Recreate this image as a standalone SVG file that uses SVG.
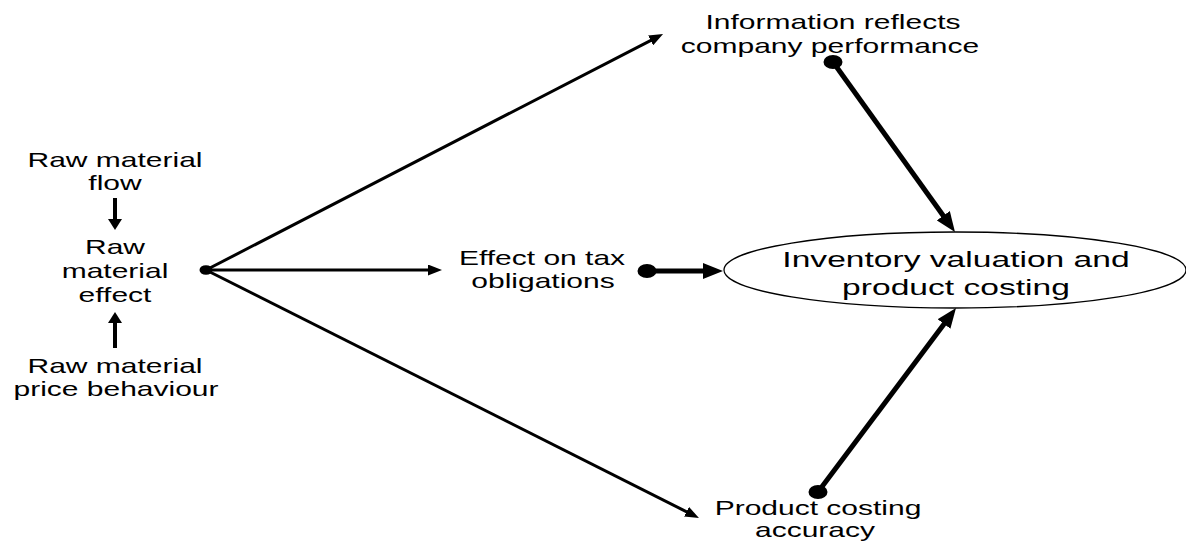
<svg xmlns="http://www.w3.org/2000/svg" width="1186" height="543" viewBox="0 0 1186 543">
<style>
.t{font-family:"Liberation Sans",Arial,sans-serif;font-size:20px;fill:#000;text-anchor:middle}
.tb{font-family:"Liberation Sans",Arial,sans-serif;font-size:22.4px;fill:#000;text-anchor:middle}
.thin{stroke:#000;stroke-width:3;fill:none;marker-end:url(#mThin)}
.thick{stroke:#000;stroke-width:5;fill:none;marker-end:url(#mThick)}
.vert{stroke:#000;stroke-width:4;fill:none;marker-end:url(#mVert)}
.dot{fill:#000}
</style>
<defs>
<marker id="mThin" markerUnits="userSpaceOnUse" markerWidth="14" markerHeight="11" refX="8" refY="5.5" orient="auto"><path d="M0,0 L14,5.5 L0,11 z" fill="#000"/></marker>
<marker id="mThick" markerUnits="userSpaceOnUse" markerWidth="20" markerHeight="16" refX="12" refY="8" orient="auto"><path d="M0,0 L20,8 L0,16 z" fill="#000"/></marker>
<marker id="mVert" markerUnits="userSpaceOnUse" markerWidth="11" markerHeight="14" refX="5" refY="7" orient="auto"><path d="M0,0 L11,7 L0,14 z" fill="#000"/></marker>
</defs>
<rect width="1186" height="543" fill="#fff"/>

<g id="connectors">
<line class="vert" x1="115" y1="198" x2="115" y2="224"/>
<line class="vert" x1="115" y1="348" x2="115" y2="318"/>
<line class="thin" x1="206" y1="270" x2="657.7" y2="36.8"/>
<line class="thin" x1="206" y1="270" x2="436" y2="270"/>
<line class="thin" x1="206" y1="270" x2="693.6" y2="515.3"/>
<ellipse class="dot" cx="206" cy="270" rx="6.5" ry="4.8"/>
<line class="thick" x1="647" y1="271" x2="715" y2="271"/>
<ellipse class="dot" cx="647" cy="271" rx="9.5" ry="7"/>
<line class="thick" x1="833" y1="62" x2="950.3" y2="225.5"/>
<ellipse class="dot" cx="833" cy="62" rx="9.5" ry="7"/>
<line class="thick" x1="818" y1="492" x2="951.2" y2="314.4"/>
<ellipse class="dot" cx="818" cy="492" rx="9.5" ry="7"/>
</g>

<g id="raw-material-flow">
<text class="t" transform="matrix(1.5 0 0 1 115 0)" x="0" y="167">Raw material</text>
<text class="t" transform="matrix(1.5 0 0 1 115 0)" x="0" y="190">flow</text>
</g>

<g id="raw-material-effect">
<text class="t" transform="matrix(1.5 0 0 1 115 0)" x="0" y="254">Raw</text>
<text class="t" transform="matrix(1.5 0 0 1 115 0)" x="0" y="278">material</text>
<text class="t" transform="matrix(1.5 0 0 1 115 0)" x="0" y="302">effect</text>
</g>

<g id="raw-material-price">
<text class="t" transform="matrix(1.5 0 0 1 115 0)" x="0" y="373">Raw material</text>
<text class="t" transform="matrix(1.5 0 0 1 116 0)" x="0" y="396">price behaviour</text>
</g>

<g id="information-reflects">
<text class="t" transform="matrix(1.5 0 0 1 833 0)" x="0" y="29">Information reflects</text>
<text class="t" transform="matrix(1.5 0 0 1 830 0)" x="0" y="53">company performance</text>
</g>

<g id="effect-on-tax">
<text class="t" transform="matrix(1.5 0 0 1 542 0)" x="0" y="265">Effect on tax</text>
<text class="t" transform="matrix(1.5 0 0 1 543 0)" x="0" y="288">obligations</text>
</g>

<g id="product-costing-accuracy">
<text class="t" transform="matrix(1.5 0 0 1 818 0)" x="0" y="515">Product costing</text>
<text class="t" transform="matrix(1.5 0 0 1 815 0)" x="0" y="537">accuracy</text>
</g>

<g id="inventory-valuation">
<ellipse cx="955" cy="270" rx="231" ry="38" fill="#fff" stroke="#000" stroke-width="1.3"/>
<text class="tb" transform="matrix(1.5 0 0 1 956 0)" x="0" y="267">Inventory valuation and</text>
<text class="tb" transform="matrix(1.5 0 0 1 956 0)" x="0" y="295">product costing</text>
</g>
</svg>
